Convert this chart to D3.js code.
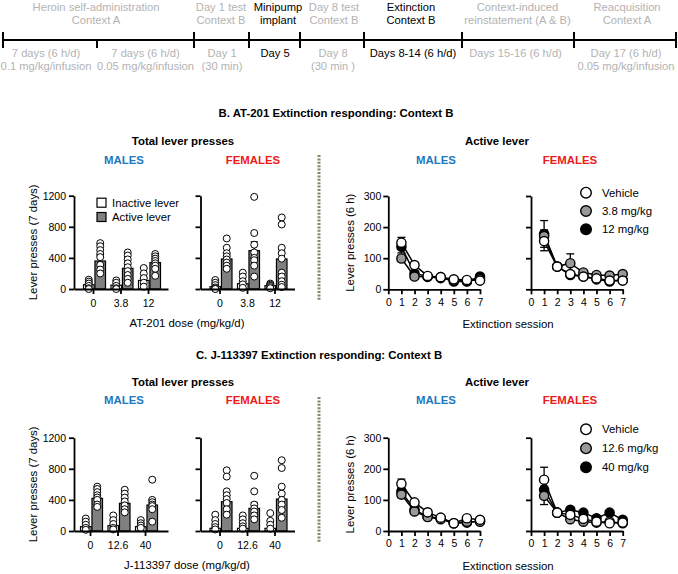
<!DOCTYPE html>
<html><head><meta charset="utf-8">
<script src="https://cdn.jsdelivr.net/npm/d3@7"></script>
<style>body{margin:0;background:#fff} text{font-family:"Liberation Sans",Arial,sans-serif}</style>
</head><body><svg id="c" width="678" height="574"></svg>
<script>
// ---------------- DATA ----------------
const tlTop = [["Heroin self-administration","Context A"],["Day 1 test","Context B"],["Minipump","implant"],["Day 8 test","Context B"],["Extinction","Context B"],["Context-induced","reinstatement (A & B)"],["Reacquisition","Context A"]];
const tlTopDark = [false,false,true,false,true,false,false];
const tlBottom = [["7 days (6 h/d)","0.1 mg/kg/infusion"],["7 days (6 h/d)","0.05 mg/kg/infusion"],["Day 1","(30 min)"],["Day 5"],["Day 8","(30 min )"],["Days 8-14 (6 h/d)"],["Days 15-16 (6 h/d)"],["Day 17 (6 h/d)","0.05 mg/kg/infusion"]];
const tlBottomDark = [false,false,false,true,false,true,false,false];

const dosesB = ["0","3.8","12"];
const dosesC = ["0","12.6","40"];
const barTicks = [0,400,800,1200];

const BM_inact_mean = [55, 50, 110], BM_inact_sem = [18, 18, 30];
const BM_inact_pts = [[120,95,70,40,10,0],[110,80,40,10,0],[270,200,140,80,30]];
const BM_act_mean = [360, 266, 340], BM_act_sem = [68, 52, 46];
const BM_act_pts = [[590,550,500,450,410,310,250,200],[470,430,380,330,280,230,180,130,80],[450,420,390,360,330,300,260,170]];

const BF_inact_mean = [30, 69, 43], BF_inact_sem = [22, 30, 21];
const BF_inact_pts = [[115,80,50,20,5,0],[210,160,100,60,15],[70,55,40,25,10]];
const BF_act_mean = [386, 493, 386], BF_act_sem = [47, 115, 100];
const BF_act_pts = [[650,530,460,420,380,340,300,260],[1185,720,570,470,400,370,300,160],[920,830,530,460,390,210,160,100,55,25]];

const CM_inact_mean = [56, 69, 56], CM_inact_sem = [34, 30, 30];
const CM_inact_pts = [[160,120,80,40,15],[200,140,90,40,20],[140,100,70,40]];
const CM_act_mean = [420, 356, 334], CM_act_sem = [50, 55, 70];
const CM_act_pts = [[570,540,500,460,430,400,340,310],[530,480,430,380,330,280,240],[660,400,370,340,320,280,120]];

const CF_inact_mean = [34, 34, 34], CF_inact_sem = [35, 35, 43];
const CF_inact_pts = [[210,140,90,50,20],[200,150,100,60,30],[230,130,80,30]];
const CF_act_mean = [377, 291, 411], CF_act_sem = [80, 75, 86];
const CF_act_pts = [[780,700,510,460,410,360,280,210],[710,510,340,290,250,200,150],[910,810,570,480,400,340,270,170]];

const sessions = [1,2,3,4,5,6,7];
const sessionTicks = [0,1,2,3,4,5,6,7];
const lineTicks = [0,100,200,300];
const legendB = ["Vehicle","3.8 mg/kg","12 mg/kg"];
const legendC = ["Vehicle","12.6 mg/kg","40 mg/kg"];

const BM_veh = [150,78,43,39,32,30,28], BM_veh_sem = [17,6,5,5,4,4,4];
const BM_low = [99,41,40,36,28,27,33],  BM_low_sem = [10,6,5,5,4,4,4];
const BM_high = [137,51,41,39,25,25,41], BM_high_sem = [20,8,5,5,4,4,6];
const BF_veh = [155,73,49,41,35,28,28], BF_veh_sem = [31,6,8,5,5,5,5];
const BF_low = [171,73,84,54,46,44,49], BF_low_sem = [20,6,30,6,6,6,6];
const BF_high = [178,73,46,41,32,25,30], BF_high_sem = [43,6,8,5,5,5,5];
const CM_veh = [152,92,60,43,25,41,36], CM_veh_sem = [15,8,6,5,4,6,5];
const CM_low = [117,63,45,38,25,30,30], CM_low_sem = [10,6,5,5,4,5,5];
const CM_high = [127,68,46,41,25,27,32], CM_high_sem = [12,6,5,5,4,5,5];
const CF_veh = [165,59,52,39,30,25,27], CF_veh_sem = [40,5,6,5,5,5,5];
const CF_low = [113,59,38,30,27,30,25], CF_low_sem = [28,5,5,5,5,5,5];
const CF_high = [133,59,68,59,41,59,36], CF_high_sem = [11,5,6,6,5,6,5];

// ---------------- LAYOUT ----------------
const L = {
  tlY: 40, tlBounds: [3,97,194,249,300,364,462,574,676],
  tlTopCx: [96,221,278,334,411,517.5,627],
  tlBotCx: [46,145.5,222,275,333,413,515.5,626],
  fs: 11.4, tlFs: 11.2, tickFs: 10.5,
  grey: "#b3b3b3", blue: "#1f78c1", red: "#ee1c1c", sep: "#8c8466",
  barMx: 74, barFx: 200.5, barW: 94, barH: 93.3,
  lineMx: 388.3, lineFx: 531, lineW: 91.7, lineH: 93.3,
  B: {y0: 289, ly0: 289.3, title: 113, titleX: 336, sub: 141, sex: 160, sep: [155,300], leg: [192.7, 18.3], barLeg: true, alignM: 0.5},
  C: {y0: 531, ly0: 531, title: 355, titleX: 319, sub: 382, sex: 400, sep: [397,542], leg: [429.3, 19], barLeg: false, alignM: 0.24}
};

const svg = d3.select("#c");

// ---------------- TIMELINE ----------------
const tl = svg.append("g");
tl.append("line").attr("x1", L.tlBounds[0]).attr("x2", L.tlBounds[8]).attr("y1", L.tlY).attr("y2", L.tlY)
  .attr("stroke", "#000").attr("stroke-width", 2);
L.tlBounds.forEach((b, i) => {
  tl.append("line").attr("x1", b).attr("x2", b)
    .attr("y1", i === 1 ? L.tlY : L.tlY - 8).attr("y2", L.tlY + 8)
    .attr("stroke", "#000").attr("stroke-width", 2);
});
tlTop.forEach((lines, i) => {
  lines.forEach((t, j) => tl.append("text").attr("x", L.tlTopCx[i]).attr("y", 7 + j * 13.3)
    .attr("text-anchor", "middle").attr("dominant-baseline", "central")
    .attr("font-size", L.tlFs).attr("fill", tlTopDark[i] ? "#000" : L.grey).text(t));
});
tlBottom.forEach((lines, i) => {
  lines.forEach((t, j) => tl.append("text").attr("x", L.tlBotCx[i]).attr("y", 52.5 + j * 13.3)
    .attr("text-anchor", "middle").attr("dominant-baseline", "central")
    .attr("font-size", L.tlFs).attr("fill", tlBottomDark[i] ? "#000" : L.grey).text(t));
});

// ---------------- HELPERS ----------------
function txt(g, x, y, s, opt = {}) {
  return g.append("text").attr("x", x).attr("y", y).attr("text-anchor", opt.anchor || "middle")
    .attr("dominant-baseline", "central").attr("font-size", opt.fs || L.fs)
    .attr("font-weight", opt.bold ? "bold" : null).attr("fill", opt.fill || "#000").text(s);
}
function styleAxis(a, labels) {
  a.selectAll("path,line").attr("stroke", "#000").attr("stroke-width", 1.8);
  a.selectAll("text").attr("font-size", L.tickFs).attr("fill", "#000")
    .attr("font-family", '"Liberation Sans",Arial,sans-serif');
  if (!labels) a.selectAll("text").remove();
}

function barChart(g, x0, y0, doses, inM, inS, inP, acM, acS, acP, labels, align) {
  const x = d3.scaleBand().domain(doses).range([x0, x0 + L.barW]).paddingOuter(0.209).paddingInner(0).align(align);
  const y = d3.scaleLinear().domain([0, 1200]).range([y0, y0 - L.barH]);
  const inner = d3.scaleBand().domain(["in", "ac"]).range([-10, 12]).paddingInner(0.08);
  const series = [
    {k: "in", m: inM, s: inS, p: inP, fill: "#fff"},
    {k: "ac", m: acM, s: acS, p: acP, fill: "#808080"}
  ];
  series.forEach(se => {
    doses.forEach((d, i) => {
      const c = x(d) + x.bandwidth() / 2;
      const bx = c + inner(se.k), bw = inner.bandwidth(), mx = bx + bw / 2;
      g.append("rect").attr("x", bx).attr("y", y(se.m[i])).attr("width", bw)
        .attr("height", y(0) - y(se.m[i])).attr("fill", se.fill).attr("stroke", "#000").attr("stroke-width", 1.2);
      g.append("line").attr("x1", mx).attr("x2", mx).attr("y1", y(se.m[i])).attr("y2", y(se.m[i] + se.s[i]))
        .attr("stroke", "#000").attr("stroke-width", 1.2);
      g.append("line").attr("x1", mx - 3.5).attr("x2", mx + 3.5).attr("y1", y(se.m[i] + se.s[i])).attr("y2", y(se.m[i] + se.s[i]))
        .attr("stroke", "#000").attr("stroke-width", 1.2);
    });
  });
  series.forEach(se => {
    doses.forEach((d, i) => {
      const c = x(d) + x.bandwidth() / 2;
      const mx = c + inner(se.k) + inner.bandwidth() / 2;
      g.selectAll(null).data(se.p[i]).enter().append("circle")
        .attr("cx", mx).attr("cy", v => y(v)).attr("r", 3.5)
        .attr("fill", "#fff").attr("stroke", "#000").attr("stroke-width", 1);
    });
  });
  const ay = g.append("g").attr("transform", `translate(${x0},0)`)
    .call(d3.axisLeft(y).tickValues(barTicks).tickFormat(d3.format("d")).tickSize(5).tickSizeOuter(0).tickPadding(3));
  styleAxis(ay, labels);
  const ax = g.append("g").attr("transform", `translate(0,${y0})`)
    .call(d3.axisBottom(x).tickSize(5).tickSizeOuter(0).tickPadding(6));
  styleAxis(ax, true);
}

function lineChart(g, x0, y0, sets, labels) {
  const x = d3.scaleLinear().domain([0, 7]).range([x0, x0 + L.lineW]);
  const y = d3.scaleLinear().domain([0, 300]).range([y0, y0 - L.lineH]);
  const line = d3.line().x((d, i) => x(sessions[i])).y(d => y(d));
  sets.forEach(s => {
    g.append("path").attr("d", line(s.v)).attr("fill", "none").attr("stroke", "#000").attr("stroke-width", 1.5);
  });
  sets.forEach(s => {
    s.v.forEach((v, i) => {
      const cx = x(sessions[i]);
      g.append("line").attr("x1", cx).attr("x2", cx).attr("y1", y(v - s.e[i])).attr("y2", y(v + s.e[i]))
        .attr("stroke", "#000").attr("stroke-width", 1.3);
      [v - s.e[i], v + s.e[i]].forEach(w => g.append("line").attr("x1", cx - 4).attr("x2", cx + 4)
        .attr("y1", y(w)).attr("y2", y(w)).attr("stroke", "#000").attr("stroke-width", 1.3));
    });
  });
  sets.forEach(s => {
    g.selectAll(null).data(s.v).enter().append("circle")
      .attr("cx", (d, i) => x(sessions[i])).attr("cy", d => y(d)).attr("r", 4.6)
      .attr("fill", s.fill).attr("stroke", "#000").attr("stroke-width", 1.4);
  });
  const ay = g.append("g").attr("transform", `translate(${x0},0)`)
    .call(d3.axisLeft(y).tickValues(lineTicks).tickFormat(d3.format("d")).tickSize(5).tickSizeOuter(0).tickPadding(2));
  styleAxis(ay, labels);
  const ax = g.append("g").attr("transform", `translate(0,${y0})`)
    .call(d3.axisBottom(x).tickValues(sessionTicks).tickFormat(d3.format("d")).tickSize(5).tickSizeOuter(0).tickPadding(4));
  styleAxis(ax, true);
}

function panel(P, title, doses, drugLabel, bars, lines, legendLabels) {
  const g = svg.append("g");
  txt(g, P.titleX, P.title, title, {bold: true});
  txt(g, 183, P.sub, "Total lever presses", {bold: true});
  txt(g, 497, P.sub, "Active lever", {bold: true});
  txt(g, 124, P.sex, "MALES", {bold: true, fill: L.blue});
  txt(g, 253, P.sex, "FEMALES", {bold: true, fill: L.red});
  txt(g, 436, P.sex, "MALES", {bold: true, fill: L.blue});
  txt(g, 570, P.sex, "FEMALES", {bold: true, fill: L.red});
  g.append("line").attr("x1", 319).attr("x2", 319).attr("y1", P.sep[0]).attr("y2", P.sep[1])
    .attr("stroke", L.sep).attr("stroke-width", 3).attr("stroke-dasharray", "2,1.4");

  barChart(g, L.barMx, P.y0, doses, ...bars[0], true, P.alignM);
  barChart(g, L.barFx, P.y0, doses, ...bars[1], false, 0.5);
  g.append("text").attr("transform", `translate(33,${P.y0 - L.barH / 2}) rotate(-90)`)
    .attr("text-anchor", "middle").attr("dominant-baseline", "central").attr("font-size", L.fs)
    .text("Lever presses (7 days)");
  txt(g, 187, P.y0 + 34, drugLabel);

  lineChart(g, L.lineMx, P.ly0, lines[0], true);
  lineChart(g, L.lineFx, P.ly0, lines[1], false);
  g.append("text").attr("transform", `translate(350,${P.ly0 - L.lineH / 2}) rotate(-90)`)
    .attr("text-anchor", "middle").attr("dominant-baseline", "central").attr("font-size", L.fs)
    .text("Lever presses (6 h)");
  txt(g, 508, P.ly0 + 35, "Extinction session");

  const fills = ["#fff", "#999", "#000"];
  legendLabels.forEach((t, i) => {
    const cy = P.leg[0] + i * P.leg[1];
    g.append("circle").attr("cx", 586).attr("cy", cy).attr("r", 5.3)
      .attr("fill", fills[i]).attr("stroke", "#000").attr("stroke-width", 1.4);
    txt(g, 602, cy, t, {anchor: "start"});
  });
  if (P.barLeg) {
    [["Inactive lever", "#fff"], ["Active lever", "#808080"]].forEach((d, i) => {
      const cy = 202.7 + i * 14.3;
      g.append("rect").attr("x", 97).attr("y", cy - 4.5).attr("width", 9).attr("height", 9)
        .attr("fill", d[1]).attr("stroke", "#000").attr("stroke-width", 1.2);
      txt(g, 112, cy, d[0], {anchor: "start"});
    });
  }
}

panel(L.B, "B. AT-201 Extinction responding: Context B", dosesB, "AT-201 dose (mg/kg/d)",
  [[BM_inact_mean, BM_inact_sem, BM_inact_pts, BM_act_mean, BM_act_sem, BM_act_pts],
   [BF_inact_mean, BF_inact_sem, BF_inact_pts, BF_act_mean, BF_act_sem, BF_act_pts]],
  [[{v: BM_high, e: BM_high_sem, fill: "#000"}, {v: BM_low, e: BM_low_sem, fill: "#999"}, {v: BM_veh, e: BM_veh_sem, fill: "#fff"}],
   [{v: BF_high, e: BF_high_sem, fill: "#000"}, {v: BF_low, e: BF_low_sem, fill: "#999"}, {v: BF_veh, e: BF_veh_sem, fill: "#fff"}]],
  legendB);
panel(L.C, "C. J-113397 Extinction responding: Context B", dosesC, "J-113397 dose (mg/kg/d)",
  [[CM_inact_mean, CM_inact_sem, CM_inact_pts, CM_act_mean, CM_act_sem, CM_act_pts],
   [CF_inact_mean, CF_inact_sem, CF_inact_pts, CF_act_mean, CF_act_sem, CF_act_pts]],
  [[{v: CM_high, e: CM_high_sem, fill: "#000"}, {v: CM_low, e: CM_low_sem, fill: "#999"}, {v: CM_veh, e: CM_veh_sem, fill: "#fff"}],
   [{v: CF_high, e: CF_high_sem, fill: "#000"}, {v: CF_low, e: CF_low_sem, fill: "#999"}, {v: CF_veh, e: CF_veh_sem, fill: "#fff"}]],
  legendC);
</script></body></html>
